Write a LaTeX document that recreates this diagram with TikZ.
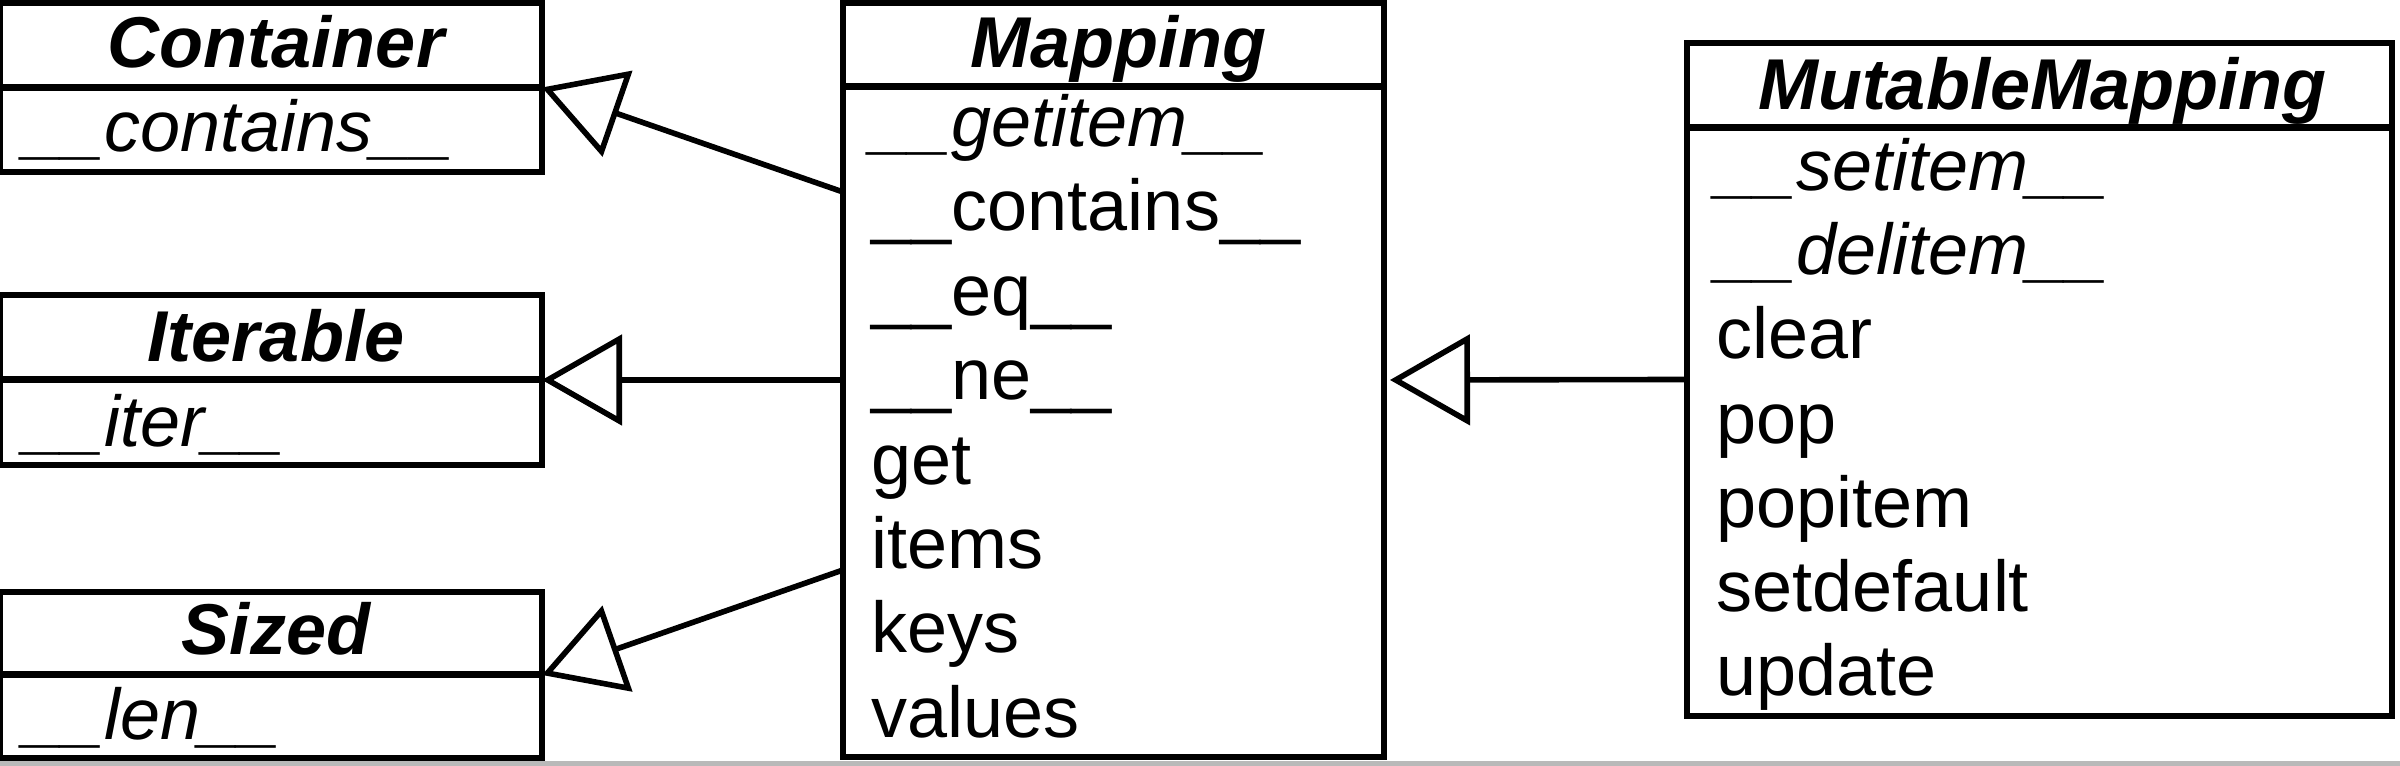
\documentclass[tikz,border=0pt]{standalone}
\usepackage{fontspec}
\setmainfont{Liberation Sans}
\usetikzlibrary{arrows.meta,calc}
\begin{document}
\begin{tikzpicture}[x=0.25pt,y=-0.25pt,
  cls/.style={draw,line width=1.4pt,inner sep=0pt,outer sep=0pt,rectangle},
  div/.style={line width=1.75pt},
  inh/.style={line width=1.4pt,-{Triangle[open,length=20pt,width=22.5pt]}},
  ttl/.style={anchor=base,inner sep=0pt,font=\fontsize{18pt}{21pt}\selectfont\bfseries\itshape},
  abs/.style={anchor=base west,inner sep=0pt,font=\fontsize{18pt}{21pt}\selectfont\itshape},
  op/.style={anchor=base west,inner sep=0pt,font=\fontsize{18pt}{21pt}\selectfont}]
\useasboundingbox (0,0) rectangle (2400,766);
\fill[white] (0,0) rectangle (2400,766);
\fill[gray!55] (0,761) rectangle (2400,766);
% boxes
\node[cls,minimum width=135.5pt,minimum height=42.25pt] (container) at (271,87.5) {};
\node[cls,minimum width=135.5pt,minimum height=42.5pt] (iterable) at (271,380) {};
\node[cls,minimum width=135.5pt,minimum height=41.5pt] (sized) at (271,675) {};
\node[cls,minimum width=135.25pt,minimum height=188.5pt] (mapping) at (1113.5,380) {};
\node[cls,minimum width=176.25pt,minimum height=168.25pt] (mutable) at (2039.5,379.5) {};
% dividers
\draw[div] (container.west) -- (container.east);
\draw[div] (iterable.west) -- (iterable.east);
\draw[div] (sized.west) -- (sized.east);
\draw[div] ($(mapping.north west)+(0,84)$) -- ($(mapping.north east)+(0,84)$);
\draw[div] ($(mutable.north west)+(0,85)$) -- ($(mutable.north east)+(0,85)$);
% texts: small boxes
\node[ttl] (t1) at (276,68) {Container};
\node[abs] (c1) at (24,152) {\_\_contains\_\_};
\node[ttl] (t2) at (276,362) {Iterable};
\node[abs] (i1) at (24,447) {\_\_iter\_\_};
\node[ttl] (t3) at (276,655) {Sized};
\node[abs] (s1) at (24,740) {\_\_len\_\_};
% Mapping
\node[ttl] (t4) at (1118,68) {Mapping};
\node[abs] (m1) at (871,147) {\_\_getitem\_\_};
\node[op] (m2) at (871,231) {\_\_contains\_\_};
\node[op] (m3) at (871,316) {\_\_eq\_\_};
\node[op] (m4) at (871,400) {\_\_ne\_\_};
\node[op] (m5) at (871,485) {get};
\node[op] (m6) at (871,569) {items};
\node[op] (m7) at (871,653) {keys};
\node[op] (m8) at (871,738) {values};
% MutableMapping
\node[ttl] (t5) at (2042,110) {MutableMapping};
\node[abs] (u1) at (1716,191) {\_\_setitem\_\_};
\node[abs] (u2) at (1716,275) {\_\_delitem\_\_};
\node[op] (u3) at (1716,359) {clear};
\node[op] (u4) at (1716,444) {pop};
\node[op] (u5) at (1716,528) {popitem};
\node[op] (u6) at (1716,612) {setdefault};
\node[op] (u7) at (1716,696) {update};
% connectors
\draw[inh] ($(mapping.west)+(0,-188)$) -- (container.east);
\draw[inh] (mapping.west) -- (iterable.east);
\draw[inh] ($(mapping.west)+(0,190)$) -- (sized.east);
\draw[inh] (mutable.west) -- ($(mapping.east)+(6,0)$);
\end{tikzpicture}
\end{document}
